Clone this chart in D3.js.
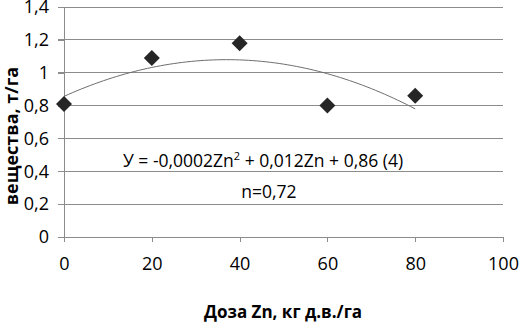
<!doctype html>
<html>
  <head>
    <meta charset="utf-8">
    <title>Доза Zn</title>
    <script src="https://cdnjs.cloudflare.com/ajax/libs/d3/7.8.5/d3.min.js"></script>
    <style>
      body { margin: 0; background: #fff; }
      svg text { font-family: "Open Sans", sans-serif; fill: #000; }
    </style>
  </head>
  <body>
    <div id="chart"></div>
    <script>
      // данные: доза Zn (кг д.в./га) и масса вещества (т/га)
      const doses = [0, 20, 40, 60, 80];
      const yields = [0.81, 1.09, 1.18, 0.80, 0.86];
      const xTicks = [0, 20, 40, 60, 80, 100];
      const yTicks = [0, 0.2, 0.4, 0.6, 0.8, 1, 1.2, 1.4];
      const equationText = ['У = -0,0002Zn', '2', ' + 0,012Zn + 0,86 (4)'];
      const rText = 'n=0,72';

      const W = 519, H = 322;
      const x = d3.scaleLinear().domain([0, 100]).range([64, 503]);
      const y = d3.scaleLinear().domain([0, 1.4]).range([237, 7]);
      const fmt = d => String(d).replace('.', ',');

      const svg = d3.select('#chart').append('svg')
        .attr('width', W).attr('height', H);

      // горизонтальная сетка
      svg.append('g').selectAll('line').data(yTicks.filter(d => d > 0)).join('line')
        .attr('x1', 58).attr('x2', 503)
        .attr('y1', d => y(d)).attr('y2', d => y(d))
        .attr('stroke', '#8c8c8c').attr('stroke-width', 1)
        .attr('shape-rendering', 'crispEdges');

      // ось Y
      const yAxis = svg.append('g').attr('transform', 'translate(64,0)')
        .call(d3.axisLeft(y).tickValues(yTicks).tickFormat(fmt).tickSize(6).tickPadding(9));
      yAxis.select('.domain').attr('stroke', '#8c8c8c').attr('shape-rendering', 'crispEdges');
      yAxis.selectAll('.tick line').attr('stroke', '#8c8c8c').attr('shape-rendering', 'crispEdges');
      yAxis.selectAll('text').style('font-size', '18px').attr('fill', '#000');

      // ось X
      const xAxis = svg.append('g').attr('transform', 'translate(0,237)')
        .call(d3.axisBottom(x).tickValues(xTicks).tickFormat(fmt).tickSize(5).tickPadding(15).tickSizeOuter(0));
      xAxis.select('.domain').attr('stroke', '#8c8c8c').attr('shape-rendering', 'crispEdges');
      xAxis.selectAll('.tick line').attr('stroke', '#8c8c8c').attr('shape-rendering', 'crispEdges');
      xAxis.selectAll('text').style('font-size', '18px').attr('fill', '#000');

      // полиномиальная линия тренда 2-й степени (МНК по данным)
      function polyFit(xs, ys) {
        const n = xs.length;
        const s = k => d3.sum(xs, v => Math.pow(v, k));
        const t = k => d3.sum(xs, (v, i) => Math.pow(v, k) * ys[i]);
        const A = [[n, s(1), s(2)], [s(1), s(2), s(3)], [s(2), s(3), s(4)]];
        const b = [t(0), t(1), t(2)];
        for (let i = 0; i < 3; i++) {
          for (let j = i + 1; j < 3; j++) {
            const f = A[j][i] / A[i][i];
            for (let k = i; k < 3; k++) A[j][k] -= f * A[i][k];
            b[j] -= f * b[i];
          }
        }
        const c = [0, 0, 0];
        for (let i = 2; i >= 0; i--) {
          let sum = b[i];
          for (let k = i + 1; k < 3; k++) sum -= A[i][k] * c[k];
          c[i] = sum / A[i][i];
        }
        return v => c[0] + c[1] * v + c[2] * v * v;
      }
      const trend = polyFit(doses, yields);
      const trendX = d3.range(0, 80.5, 1);
      svg.append('path')
        .datum(trendX)
        .attr('d', d3.line().x(d => x(d)).y(d => y(trend(d))))
        .attr('fill', 'none').attr('stroke', '#6e6e6e').attr('stroke-width', 1);

      // точки-ромбы
      svg.append('g').selectAll('path').data(doses).join('path')
        .attr('transform', (d, i) => `translate(${x(d)},${y(yields[i])})`)
        .attr('d', 'M0,-8L8,0L0,8L-8,0Z')
        .attr('fill', '#262626');

      // уравнение
      const eq = svg.append('text').attr('x', 123).attr('y', 167).style('font-size', '17.5px');
      eq.append('tspan').text(equationText[0]);
      eq.append('tspan').attr('dy', -7).style('font-size', '11px').text(equationText[1]);
      eq.append('tspan').attr('dy', 7).text(equationText[2]);

      svg.append('text').attr('x', 269).attr('y', 198)
        .attr('text-anchor', 'middle').style('font-size', '17.5px').text(rText);

      // подписи осей
      svg.append('text')
        .attr('transform', 'translate(18,136) rotate(-90)')
        .attr('text-anchor', 'middle')
        .style('font-size', '18px').style('font-weight', 'bold')
        .text('вещества, т/га');

      svg.append('text').attr('x', 283).attr('y', 318)
        .attr('text-anchor', 'middle')
        .style('font-size', '17px').style('font-weight', 'bold')
        .text('Доза Zn, кг д.в./га');
    </script>
  </body>
</html>
